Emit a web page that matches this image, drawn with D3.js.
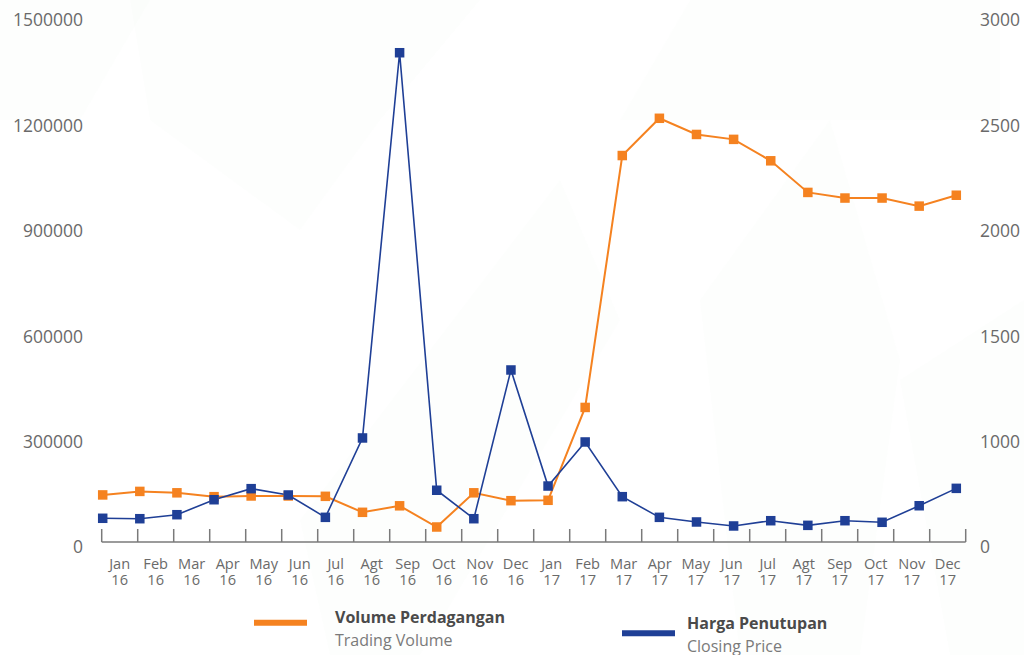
<!DOCTYPE html>
<html>
<head>
<meta charset="utf-8">
<script src="https://cdn.jsdelivr.net/npm/d3@7"></script>
<style>
  html, body { margin: 0; padding: 0; background: #ffffff; }
  svg { display: block; }
  text { font-family: "Open Sans", sans-serif; }
</style>
</head>
<body>
<svg id="chart" width="1024" height="655"></svg>
<script>
const months = ["Jan","Feb","Mar","Apr","May","Jun","Jul","Agt","Sep","Oct","Nov","Dec",
                "Jan","Feb","Mar","Apr","May","Jun","Jul","Agt","Sep","Oct","Nov","Dec"];
const years = ["16","16","16","16","16","16","16","16","16","16","16","16",
               "17","17","17","17","17","17","17","17","17","17","17","17"];
const volume = [134000, 144000, 140000, 129000, 131000, 131000, 130000, 84500, 103000, 42700, 140000, 117600,
                118700, 383000, 1100000, 1206000, 1160000, 1146000, 1085000, 995000, 979000, 979000, 956000, 987000];
const price = [225, 221, 259, 401, 506, 446, 234, 987, 2821, 491, 221, 1316,
               531, 949, 430, 234, 190, 152, 202, 158, 202, 187, 344, 509];
const leftTicks = [0, 300000, 600000, 900000, 1200000, 1500000];
const rightTicks = [0, 1000, 1500, 2000, 2500, 3000];
const legendItems = [
  { title: "Volume Perdagangan", sub: "Trading Volume" },
  { title: "Harga Penutupan", sub: "Closing Price" }
];

const ORANGE = "#f58220";
const BLUE = "#1f3f96";
const svg = d3.select("#chart");

// very faint background watermark
const bg = svg.append("g");
bg.append("rect").attr("width", 1024).attr("height", 655).attr("fill", "#ffffff");
const shapes = [
  [[0,0],[150,0],[80,120],[0,120]],
  [[130,0],[480,0],[380,120],[300,230],[150,120]],
  [[690,0],[1000,0],[1000,120],[620,120]],
  [[300,520],[560,180],[620,320],[420,655],[330,655]],
  [[700,300],[830,120],[900,360],[860,655],[740,655]],
  [[900,380],[1024,300],[1024,655],[950,655]]
];
bg.selectAll("polygon").data(shapes).join("polygon")
  .attr("points", d => d.map(p => p.join(",")).join(" "))
  .attr("fill", "#f4f5f1").attr("opacity", 0.15);

const yL = d3.scaleLinear().domain([0, 1500000]).range([542, 15]);
// right axis labels in the reference are evenly spaced: 0, 1000, 1500, ... 3000
const yR = d3.scaleLinear().domain([0, 1000, 3000]).range([542, yL(300000), 15]);
const idx = d3.range(months.length);
const xBand = d3.scaleBand().domain(idx).range([101.7, 965.7]).padding(0);
const xPt = d3.scalePoint().domain(idx).range([102.7, 956.3]);

// left axis labels
const leftAxis = d3.axisLeft(yL).tickValues(leftTicks).tickSize(0).tickPadding(0).tickFormat(d3.format("d"));
const gl = svg.append("g").attr("transform", "translate(83,0)").call(leftAxis);
gl.select(".domain").remove();
gl.selectAll("text").attr("font-size", 17.5).attr("fill", "#6a6a6a")
  .attr("font-family", "'Open Sans', sans-serif").attr("dy", "0.62em");

// right axis labels
const rightAxis = d3.axisRight(yR).tickValues(rightTicks).tickSize(0).tickPadding(0).tickFormat(d3.format("d"));
const gr = svg.append("g").attr("transform", "translate(980,0)").call(rightAxis);
gr.select(".domain").remove();
gr.selectAll("text").attr("font-size", 17.5).attr("fill", "#6a6a6a")
  .attr("font-family", "'Open Sans', sans-serif").attr("dy", "0.62em");

// x axis: baseline + upward ticks at band boundaries
const gx = svg.append("g");
gx.append("line").attr("x1", xBand.range()[0]).attr("x2", xBand.range()[1])
  .attr("y1", 542).attr("y2", 542).attr("stroke", "#7a7a7a").attr("stroke-width", 1.5);
const bounds = idx.map(i => xBand(i)).concat([xBand.range()[1]]);
gx.selectAll("line.tick").data(bounds).join("line").attr("class", "tick")
  .attr("x1", d => d).attr("x2", d => d).attr("y1", 542).attr("y2", 529)
  .attr("stroke", "#7a7a7a").attr("stroke-width", 1.5);
gx.selectAll("text.m").data(idx).join("text").attr("class", "m")
  .attr("text-anchor", "middle").attr("font-size", 14.6).attr("fill", "#6a6a6a")
  .attr("x", i => xBand(i) + xBand.bandwidth() / 2).attr("y", 568.5).text(i => months[i]);
gx.selectAll("text.y").data(idx).join("text").attr("class", "y")
  .attr("text-anchor", "middle").attr("font-size", 14.6).attr("fill", "#6a6a6a")
  .attr("x", i => xBand(i) + xBand.bandwidth() / 2).attr("y", 584.5).text(i => years[i]);

// lines
const lineV = d3.line().x((d, i) => xPt(i)).y(d => yL(d));
const lineP = d3.line().x((d, i) => xPt(i)).y(d => yR(d));

svg.append("path").datum(volume).attr("d", lineV).attr("fill", "none")
  .attr("stroke", ORANGE).attr("stroke-width", 2);
svg.append("path").datum(price).attr("d", lineP).attr("fill", "none")
  .attr("stroke", BLUE).attr("stroke-width", 1.6);

const ms = 9.5;
svg.append("g").selectAll("rect").data(volume).join("rect")
  .attr("x", (d, i) => xPt(i) - ms / 2).attr("y", d => yL(d) - ms / 2)
  .attr("width", ms).attr("height", ms).attr("fill", ORANGE);
svg.append("g").selectAll("rect").data(price).join("rect")
  .attr("x", (d, i) => xPt(i) - ms / 2).attr("y", d => yR(d) - ms / 2)
  .attr("width", ms).attr("height", ms).attr("fill", BLUE);

// legend
const legendPos = [
  { sx1: 254, sx2: 307, sy: 622.7, tx: 335, ty: 617.5, color: ORANGE },
  { sx1: 622, sx2: 675, sy: 633.3, tx: 687, ty: 623.5, color: BLUE }
];
legendItems.forEach((item, k) => {
  const p = legendPos[k];
  svg.append("line").attr("x1", p.sx1).attr("x2", p.sx2).attr("y1", p.sy).attr("y2", p.sy)
    .attr("stroke", p.color).attr("stroke-width", 6);
  svg.append("text").attr("x", p.tx).attr("y", p.ty).attr("dy", "0.35em")
    .attr("font-size", 16).attr("font-weight", "bold").attr("fill", "#4a4a4a").text(item.title);
  svg.append("text").attr("x", p.tx).attr("y", p.ty + 23).attr("dy", "0.35em")
    .attr("font-size", 16).attr("fill", "#7a7a7a").text(item.sub);
});
</script>
</body>
</html>
